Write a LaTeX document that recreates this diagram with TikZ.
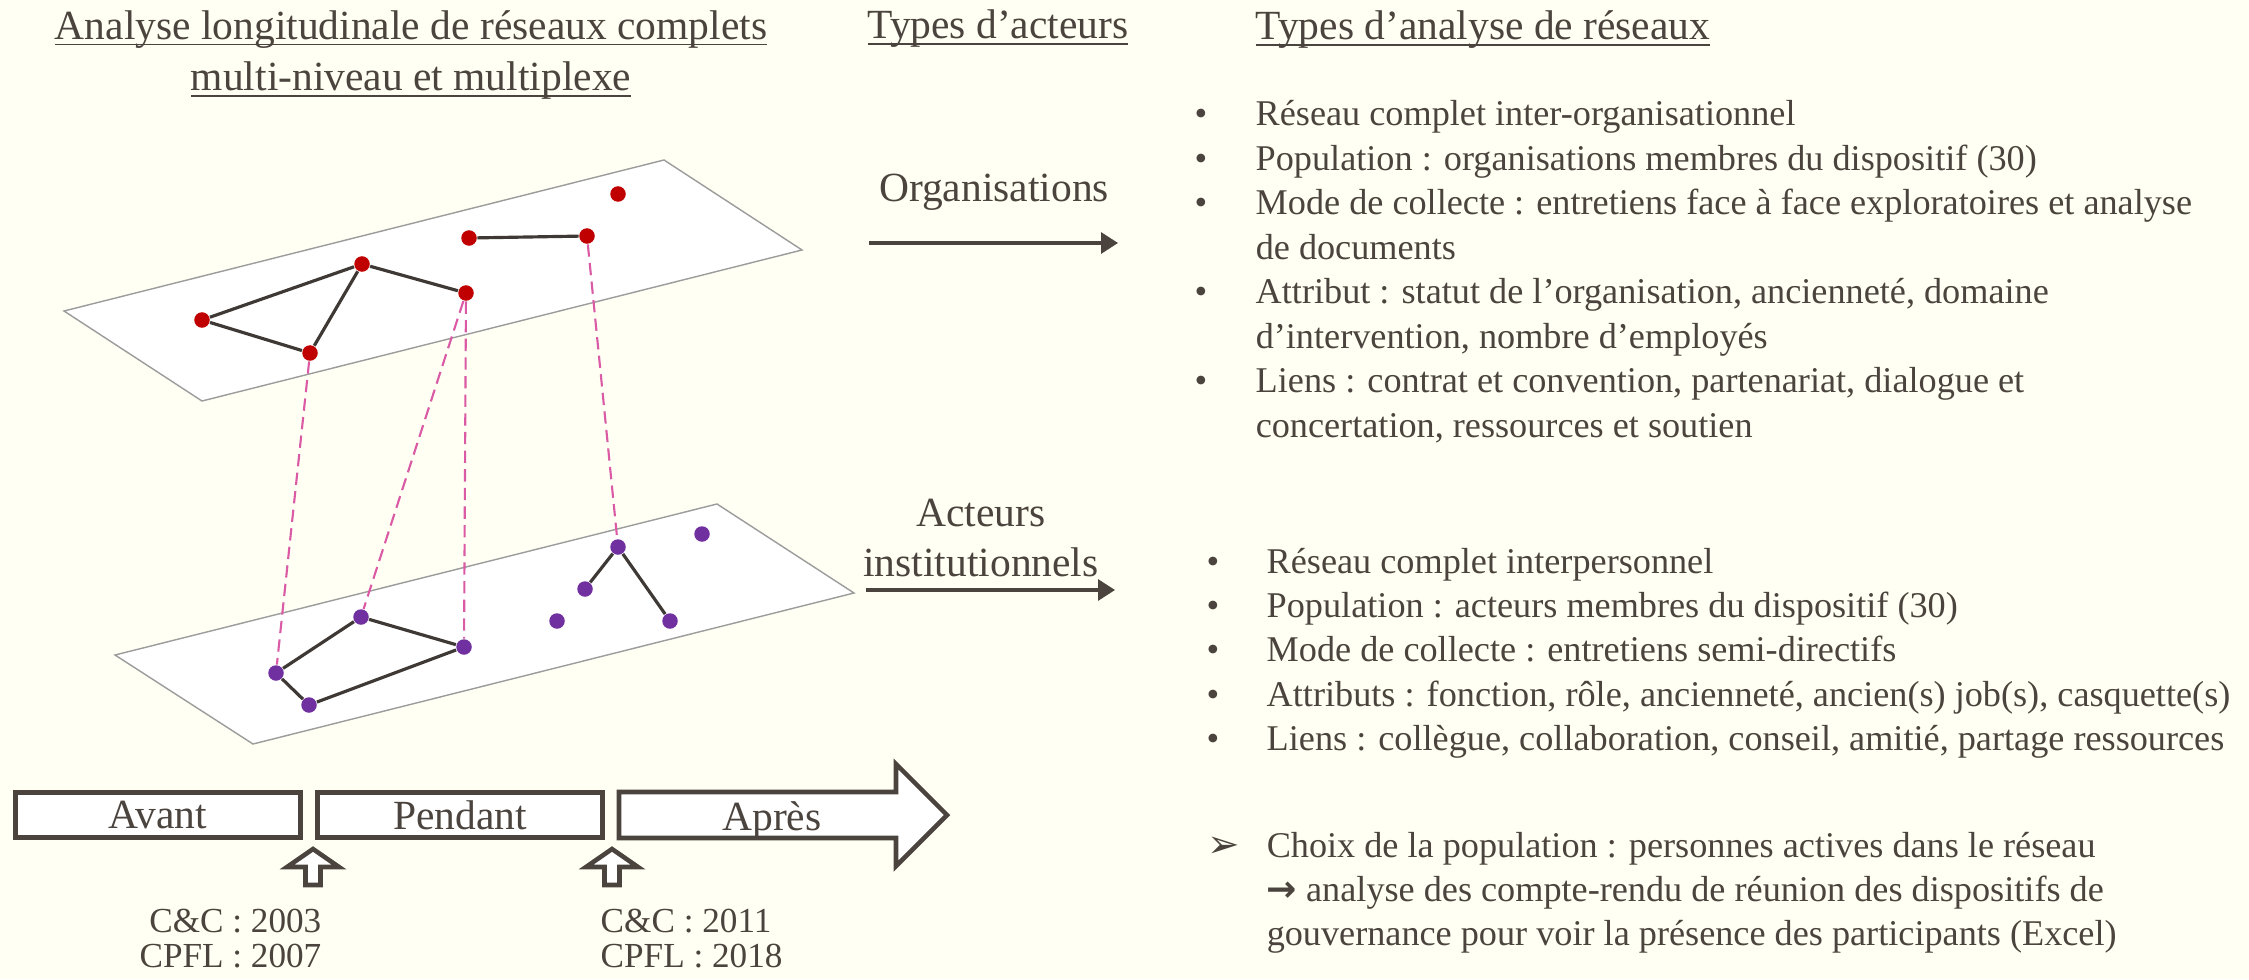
\documentclass[tikz,border=0pt]{standalone}
\usepackage{fontspec}
\setmainfont{Liberation Serif}
\newfontfamily\symfont{DejaVu Sans}
\usetikzlibrary{arrows.meta}
\definecolor{bgIvory}{HTML}{FFFFF3}
\definecolor{txtBrown}{HTML}{4B443E}
\definecolor{tieGray}{HTML}{3F3936}
\definecolor{orgRed}{HTML}{C00000}
\definecolor{actPurple}{HTML}{7030A0}
\definecolor{bridgePink}{HTML}{DA5AA6}
\definecolor{planeGray}{HTML}{9C9C9C}
\newcommand\hdline[1]{\underline{\smash{#1}}}
\tikzset{
  >={Triangle[length=1.7mm, width=2.1mm]},
  plane/.style={draw=planeGray, line width=0.4pt, fill=white},
  orgdot/.style={circle, fill=orgRed, inner sep=0pt, minimum size=1.55mm},
  actdot/.style={circle, fill=actPurple, inner sep=0pt, minimum size=1.55mm},
  tie/.style={line width=0.9pt, draw=tieGray},
  bridge/.style={line width=0.6pt, draw=bridgePink, dash pattern=on 3.5pt off 1.8pt},
  level/.style={->, line width=0.9pt, draw=txtBrown},
  heading/.style={font=\fontsize{11.8pt}{14.6pt}\selectfont, text=txtBrown,
    align=center, anchor=base, inner sep=0pt},
  levelname/.style={font=\fontsize{11.8pt}{14.2pt}\selectfont, text=txtBrown,
    align=center, anchor=base, inner sep=0pt},
  listing/.style={font=\fontsize{10.3pt}{12.65pt}\selectfont, text=txtBrown,
    anchor=base west, inner sep=0pt},
  period/.style={draw=txtBrown, line width=1.3pt, fill=white, text=txtBrown,
    minimum width=2.85cm, minimum height=4.55mm, inner sep=0pt,
    font=\fontsize{11.8pt}{14pt}\selectfont},
  blockarrow/.style={draw=txtBrown, line width=1.3pt, fill=white, line join=miter},
  dates/.style={font=\fontsize{10pt}{9.9pt}\selectfont, text=txtBrown, inner sep=0pt},
}

\begin{document}
\begin{tikzpicture}[x=0.01cm, y=-0.01cm]
  \fill[bgIvory] (0,0) rectangle (2249,979);
  \useasboundingbox (0,0) rectangle (2249,979);

  % ---- Headings (base = last line) ---------------------------------------
  \node[heading] (mainTitle) at (411,91)
    {\hdline{Analyse longitudinale de réseaux complets}\\\hdline{multi-niveau et multiplexe}};
  \node[heading] (actorTitle) at (998,39) {\hdline{Types d’acteurs}};
  \node[heading, anchor=base west] (typeTitle) at (1255,40) {\hdline{Types d’analyse de réseaux}};

  % ---- Planes --------------------------------------------------------------
  \draw[plane] (64,311) -- (664,160) -- (802,250) -- (202,401) -- cycle;
  \draw[plane] (115,655) -- (717,504) -- (854,593) -- (253,744) -- cycle;

  % ---- Organisations (upper level) ---------------------------------------------
  \node[orgdot] (org1) at (618,194) {};
  \node[orgdot] (org2) at (469,238) {};
  \node[orgdot] (org3) at (587,236) {};
  \node[orgdot] (org4) at (362,264) {};
  \node[orgdot] (org5) at (466,293) {};
  \node[orgdot] (org6) at (202,320) {};
  \node[orgdot] (org7) at (310,353) {};

  % ---- Actors (lower level) ------------------------------------------------
  \node[actdot] (act1) at (702,534) {};
  \node[actdot] (act2) at (618,547) {};
  \node[actdot] (act3) at (585,589) {};
  \node[actdot] (act4) at (557,621) {};
  \node[actdot] (act5) at (670,621) {};
  \node[actdot] (act6) at (361,617) {};
  \node[actdot] (act7) at (464,647) {};
  \node[actdot] (act8) at (276,673) {};
  \node[actdot] (act9) at (309,705) {};

  % ties inside each level
  \draw[tie] (org2) -- (org3);
  \draw[tie] (org6) -- (org4) -- (org5);
  \draw[tie] (org4) -- (org7) -- (org6);
  \draw[tie] (act3) -- (act2) -- (act5);
  \draw[tie] (act8) -- (act6) -- (act7) -- (act9) -- (act8);

  % links between the two levels
  \draw[bridge] (org7) -- (act8);
  \draw[bridge] (org5) -- (act6);
  \draw[bridge] (org5) -- (act7);
  \draw[bridge] (org3) -- (act2);

  % ---- Actor types ---------------------------------------------------------
  \node[levelname] (orgLabel) at (994,202) {Organisations};
  \node[levelname] (actLabel) at (981,576) {Acteurs\\institutionnels};
  \coordinate (orgFrom) at (869,243);
  \coordinate (orgTo)   at (1118,243);
  \coordinate (actFrom) at (866,590);
  \coordinate (actTo)   at (1115,590);
  \draw[level] (orgFrom) -- (orgTo);
  \draw[level] (actFrom) -- (actTo);

  % ---- Network analysis types ----------------------------------------------
  \node[listing] (orgList) at (1194,126) {\begin{tabular}[t]{@{}p{0.61cm}@{}l@{}}
    • & Réseau complet inter-organisationnel\\
    • & Population : organisations membres du dispositif (30)\\
    • & Mode de collecte : entretiens face à face exploratoires et analyse\\
      & de documents\\
    • & Attribut : statut de l’organisation, ancienneté, domaine\\
      & d’intervention, nombre d’employés\\
    • & Liens : contrat et convention, partenariat, dialogue et\\
      & concertation, ressources et soutien
  \end{tabular}};
  \node[listing] (actList) at (1206,573) {\begin{tabular}[t]{@{}p{0.60cm}@{}l@{}}
    • & Réseau complet interpersonnel\\
    • & Population : acteurs membres du dispositif (30)\\
    • & Mode de collecte : entretiens semi-directifs\\
    • & Attributs : fonction, rôle, ancienneté, ancien(s) job(s), casquette(s)\\
    • & Liens : collègue, collaboration, conseil, amitié, partage ressources
  \end{tabular}};
  \node[listing] (choiceNote) at (1207,857) {\begin{tabular}[t]{@{}p{0.59cm}@{}l@{}}
    {\symfont\fontsize{11pt}{12pt}\selectfont ➢} & Choix de la population : personnes actives dans le réseau\\
      & {\symfont\bfseries →} analyse des compte-rendu de réunion des dispositifs de\\
      & gouvernance pour voir la présence des participants (Excel)
  \end{tabular}};

  % ---- Timeline --------------------------------------------------------------
  \node[period] (avant)   at (158,815) {Avant};
  \node[period] (pendant) at (460,815) {Pendant};
  \draw[blockarrow] (619,792) -- (896,792) -- (896,764) -- (947,815)
    -- (896,866) -- (896,838) -- (619,838) -- cycle;
  \node[levelname] (apres) at (772,830) {Après};

  % start and end of the schemes
  \draw[blockarrow] (313,849) -- ++(26,18) -- ++(-18.5,0) -- ++(0,18)
    -- ++(-15,0) -- ++(0,-18) -- ++(-18.5,0) -- cycle;
  \draw[blockarrow] (612,849) -- ++(26,18) -- ++(-18.5,0) -- ++(0,18)
    -- ++(-15,0) -- ++(0,-18) -- ++(-18.5,0) -- cycle;
  \node[dates, align=right, anchor=base east] (startDates) at (322,967) {C\&C : 2003\\CPFL : 2007};
  \node[dates, align=left, anchor=base west] (endDates) at (600,967) {C\&C : 2011\\CPFL : 2018};

\end{tikzpicture}
\end{document}
